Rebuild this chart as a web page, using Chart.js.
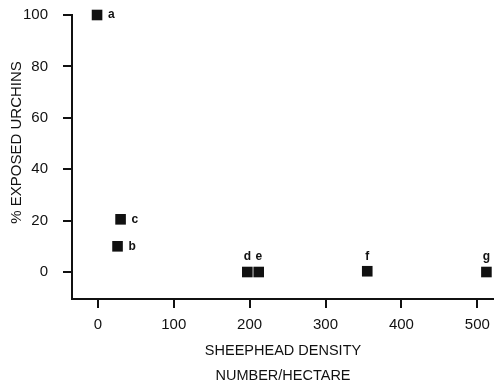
<!DOCTYPE html>
<html>
<head>
<meta charset="utf-8">
<script src="https://cdn.jsdelivr.net/npm/chart.js@4.4.1/dist/chart.umd.min.js"></script>
<style>
  html, body { margin:0; padding:0; background:#fff; }
  #wrap { width:494px; height:384px; position:relative; }
</style>
</head>
<body>
<div id="wrap"><canvas id="myChart"></canvas></div>
<script>
// data
const siteLabels = ["a","b","c","d","e","f","g"];
const density = [-1, 26, 30, 197, 212, 355, 512];
const exposed = [100, 10, 20.5, 0, 0, 0.3, 0];
const xTicks = [0,100,200,300,400,500];
const yTicks = [0,20,40,60,80,100];
// where each letter sits next to its square
const labelSide = ["right","right","right","top","top","top","top"];

const points = density.map((x,i)=>({x:x, y:exposed[i]}));

// letters beside the squares
const letterPlugin = {
    id:'letters',
    afterDatasetsDraw(chart){
        const c = chart.ctx;
        const meta = chart.getDatasetMeta(0);
        c.save();
        c.fillStyle = '#111';
        c.font = 'bold 12px "Liberation Sans", Arial, sans-serif';
        c.textBaseline = 'middle';
        meta.data.forEach((pt,i)=>{
            if(labelSide[i]==="right"){
                c.textAlign = 'left';
                c.fillText(siteLabels[i], pt.x+11, pt.y);
            } else {
                c.textAlign = 'center';
                c.fillText(siteLabels[i], pt.x, pt.y-15);
            }
        });
        c.restore();
    }
};

const fam = '"Liberation Sans", Arial, sans-serif';

var ctx = document.getElementById('myChart');
const myChart = new Chart(ctx,{
    type:'scatter',
    data:{
        datasets:[{
            data:points,
            pointStyle:'rect',
            pointRadius:7.5,
            pointHoverRadius:7.5,
            backgroundColor:'#111',
            borderColor:'#111',
            borderWidth:0,
            clip:false
        }]
    },
    options:{
        responsive:true,
        maintainAspectRatio:false,
        animation:false,
        events:[],
        layout:{ autoPadding:false, padding:{ top:15, left:0, right:0, bottom:0 } },
        plugins:{ legend:{display:false}, tooltip:{enabled:false} },
        scales:{
            x:{
                type:'linear',
                min:-34, max:522,
                afterBuildTicks:(s)=>{ s.ticks = xTicks.map(v=>({value:v})); },
                afterFit:(s)=>{ s.height = 85; s.paddingLeft = 0; s.paddingRight = 0; },
                border:{ display:true, color:'#111', width:2 },
                grid:{ display:true, drawOnChartArea:false, drawTicks:true, tickLength:9, color:'#111', lineWidth:2 },
                ticks:{ color:'#111', font:{family:fam, size:15}, padding:8, maxRotation:0 },
                title:{ display:true, text:['SHEEPHEAD DENSITY','NUMBER/HECTARE'], color:'#111',
                        font:{ family:fam, size:14.5, lineHeight:1.75 }, padding:{top:9,bottom:-5} }
            },
            y:{
                type:'linear',
                min:-10.5, max:100,
                afterBuildTicks:(s)=>{ s.ticks = yTicks.map(v=>({value:v})); },
                afterFit:(s)=>{ s.width = 72; s.paddingTop = 0; s.paddingBottom = 0; },
                border:{ display:true, color:'#111', width:2 },
                grid:{ display:true, drawOnChartArea:false, drawTicks:true, tickLength:9, color:'#111', lineWidth:2 },
                ticks:{ color:'#111', font:{family:fam, size:15}, padding:15 },
                title:{ display:true, text:'       % EXPOSED URCHINS', color:'#111',
                        font:{ family:fam, size:15 }, padding:{top:8,bottom:0} }
            }
        }
    },
    plugins:[letterPlugin]
});
</script>
</body>
</html>
